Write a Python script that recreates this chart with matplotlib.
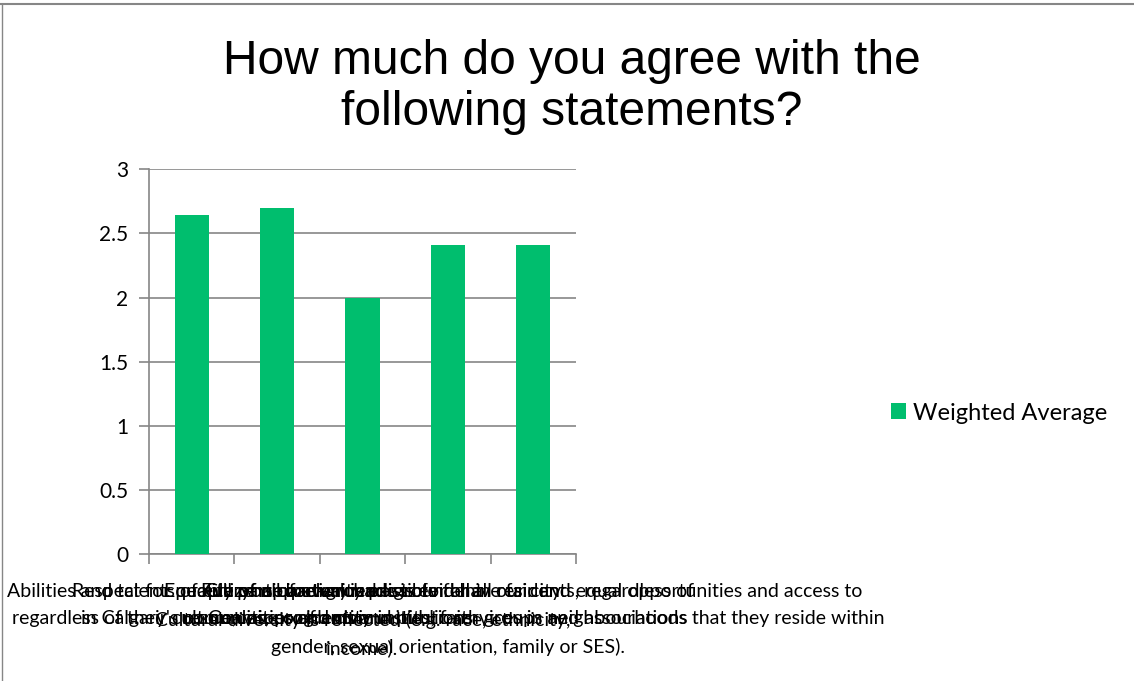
import numpy as np
import matplotlib.pyplot as plt
from matplotlib.lines import Line2D

# survey results (weighted average agreement)
statements = [
    "Abilities and talents of everyone are valued\nregardless of their culture, race or identity",
    "Respect for people of all backgrounds is evident\nin Calgary's communities and civic institutions",
    "Equality of opportunity exists for all in our city\nCultural diversity is reflected (e.g. race, ethnicity,\nincome).",
    "Full participation is possible for all residents, regardless of\nCoalitions of communities, faith groups and associations\ngender, sexual orientation, family or SES).",
    "Citizens of every background have fair and equal opportunities and access to\nresources, programs and public services in neighbourhoods that they reside within",
]
weighted_avg = [2.64, 2.70, 2.00, 2.41, 2.41]
yticks = [0, 0.5, 1, 1.5, 2, 2.5, 3]
ytick_labels = ["0", "0.5", "1", "1.5", "2", "2.5", "3"]

green = "#00BE6E"
grey = "#868686"

fig = plt.figure(figsize=(11.34, 6.81), dpi=100)
ax = fig.add_axes([0.1314, 0.1865, 0.3765, 0.5649])

x = np.arange(len(weighted_avg))
ax.bar(x, weighted_avg, width=0.4, color=green, label="Weighted Average", zorder=3)

ax.set_xlim(-0.5, len(weighted_avg) - 0.5)
ax.set_ylim(0, 3)
ax.set_yticks(yticks)
ax.set_yticklabels(ytick_labels, fontsize=15, family="Lato")
ax.yaxis.grid(True, color=grey, linewidth=1.2, zorder=0)

ax.set_xticks(x)
ax.set_xticklabels(statements, fontsize=14, family="Lato",
                   ha="center", multialignment="center", linespacing=1.7)
ax.set_xticks(np.arange(-0.5, len(weighted_avg)), minor=True)
ax.tick_params(axis="x", which="major", length=0, pad=21)
ax.tick_params(axis="x", which="minor", length=7, width=1.2, color=grey)
ax.tick_params(axis="y", length=7, width=1.2, color=grey, pad=8)

for side in ["top", "right"]:
    ax.spines[side].set_visible(False)
for side in ["left", "bottom"]:
    ax.spines[side].set_color(grey)
    ax.spines[side].set_linewidth(1.2)

fig.text(0.5044, 0.872, "How much do you agree with the\nfollowing statements?",
         ha="center", va="center", fontsize=34.5, family="Liberation Sans", linespacing=1.19)

fig.legend(loc="center left", bbox_to_anchor=(0.777, 0.3935), frameon=False,
           prop={"family": "Lato", "size": 17}, borderaxespad=0,
           handlelength=0.65, handleheight=0.65, handletextpad=0.3)

# chart frame (top and left edge)
fig.add_artist(Line2D([0, 1], [0.994, 0.994], transform=fig.transFigure, color=grey, linewidth=1.5))
fig.add_artist(Line2D([0.002, 0.002], [0, 0.994], transform=fig.transFigure, color=grey, linewidth=1))

fig.savefig("out.png", dpi=100)
